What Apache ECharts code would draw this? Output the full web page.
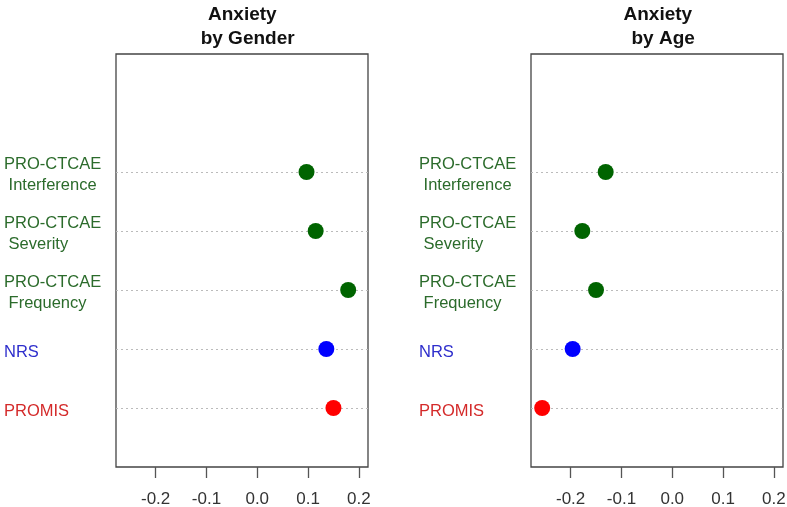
<!DOCTYPE html>
<html><head><meta charset="utf-8">
<script src="https://cdn.jsdelivr.net/npm/echarts@6/dist/echarts.min.js"></script>
<style>html,body{margin:0;padding:0;background:#fff}#c{width:787px;height:507px}</style>
</head><body><div id="c"></div>
<script>
// Categories, bottom to top (blank slots pad the axis to 0..7)
const categories = ['', 'PROMIS', 'NRS', 'PRO-CTCAE\n Frequency', 'PRO-CTCAE\n Severity', 'PRO-CTCAE\n Interference', '', ''];
const measures = ['PROMIS', 'NRS', 'PRO-CTCAE\n Frequency', 'PRO-CTCAE\n Severity', 'PRO-CTCAE\n Interference'];
const genderValues = [0.150, 0.136, 0.179, 0.115, 0.097];
const ageValues = [-0.256, -0.196, -0.150, -0.177, -0.131];
const xTicks = [-0.2, -0.1, 0.0, 0.1, 0.2];
const titles = ['Anxiety \n by Gender', 'Anxiety \n by Age'];
const pointColors = ['#ff0000', '#0000ff', '#006400', '#006400', '#006400'];
const labelColors = {'PROMIS': '#d42a2a', 'NRS': '#2e2ecc'};

const chart = echarts.init(document.getElementById('c'), null, {renderer: 'canvas'});
const font = '"Liberation Sans", Arial, sans-serif';
const grids = [
  {left: 116, top: 54, width: 252, height: 413},
  {left: 531, top: 54, width: 252, height: 413}
];
const titleCenters = [240, 655.5];

function xAxis(i) {
  return {
    type: 'value', gridIndex: i, min: -0.278, max: 0.218, interval: 0.1,
    axisLine: {show: false}, splitLine: {show: false},
    axisTick: {show: true, length: 11, lineStyle: {color: '#555', width: 1.3},
      customValues: xTicks},
    axisLabel: {fontFamily: font, fontSize: 17, color: '#333', margin: 24,
      customValues: xTicks,
      formatter: v => v.toFixed(1)}
  };
}
function yAxis(i) {
  return {
    type: 'category', gridIndex: i, data: categories, boundaryGap: false,
    axisLine: {show: false}, axisTick: {show: false},
    axisLabel: {interval: 0, align: 'left', margin: 112, fontFamily: font, fontSize: 16.5,
      lineHeight: 21,
      formatter: v => v === '' ? '' : '{s| }\n' + v,
      rich: {s: {fontSize: 1, lineHeight: 6}},
      color: (v) => labelColors[v] || '#2b6b2b'},
    splitLine: {show: true, interval: (idx, v) => v !== '',
      lineStyle: {color: '#bbbbbb', type: [2, 3], width: 1}}
  };
}
function series(i, vals) {
  return {
    type: 'scatter', xAxisIndex: i, yAxisIndex: i, symbolSize: 16, z: 5,
    data: measures.map((m, k) => ({value: [vals[k], m], itemStyle: {color: pointColors[k], opacity: 1}}))
  };
}
const option = {
  animation: false,
  backgroundColor: '#fff',
  title: titles.map((t, i) => ({
    text: t, left: titleCenters[i], top: -2, textAlign: 'center',
    textStyle: {fontFamily: font, fontSize: 19, fontWeight: 'bold', color: '#111', lineHeight: 24}
  })),
  grid: grids.map(g => Object.assign({show: true, outerBoundsMode: 'none', containLabel: false,
    borderColor: '#444', borderWidth: 1.3, backgroundColor: 'transparent'}, g)),
  xAxis: [xAxis(0), xAxis(1)],
  yAxis: [yAxis(0), yAxis(1)],
  series: [series(0, genderValues), series(1, ageValues)]
};
chart.setOption(option);
</script></body></html>
